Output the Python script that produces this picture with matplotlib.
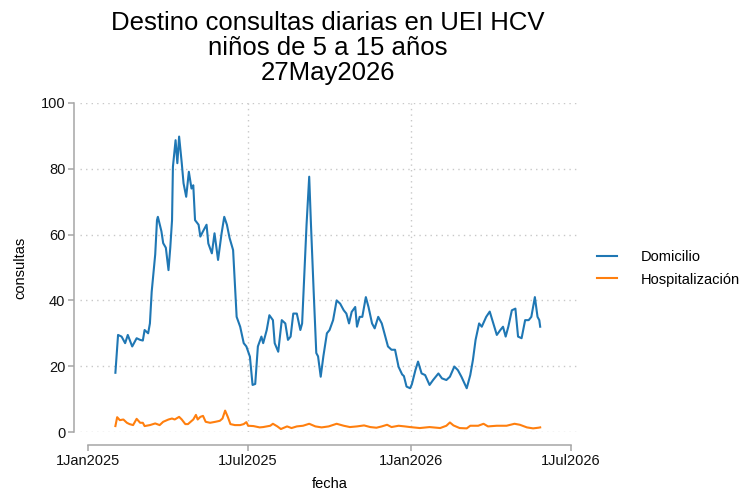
import numpy as np
import matplotlib
matplotlib.use('Agg')
import matplotlib.pyplot as plt

plt.rcParams['font.family'] = ['Liberation Sans', 'DejaVu Sans']

START = np.datetime64('2025-01-01')

# Domicilio: days since 1 Jan 2025 and daily consultations
dom_day = [31, 34, 38, 42, 45, 50, 55, 59, 62, 64, 68, 70, 72, 76, 78, 79,
           83, 85, 88, 91, 93, 95, 96, 99, 101, 103, 106, 108, 111, 114, 117,
           119, 121, 125, 127, 130, 134, 136, 140, 143, 147, 151, 154, 157,
           160, 164, 168, 172, 176, 179, 183, 186, 189, 192, 196, 198, 202,
           205, 209, 211, 215, 219, 223, 226, 229, 232, 236, 240, 242, 244,
           247, 250, 252, 255, 258, 260, 263, 266, 270, 273, 277, 281, 285,
           289, 292, 295, 298, 302, 304, 307, 310, 314, 317, 321, 324, 328,
           332, 336, 339, 343, 347, 351, 355, 357, 360, 364, 366, 370, 373,
           377, 381, 386, 390, 396, 400, 405, 409, 414, 418, 422, 428, 432,
           435, 438, 442, 445, 450, 454, 458, 462, 466, 469, 472, 475, 479,
           483, 486, 490, 494, 498, 501, 505, 508, 510, 511]
dom_val = [18.0, 29.5, 29, 27, 29.5, 26, 28.5, 28, 27.8, 31, 30, 33, 42.6,
           54, 64.4, 65.4, 61, 57.4, 56, 49.2, 56, 64.4, 80.6, 88.7, 81.7,
           89.8, 81.7, 75.6, 71.5, 79.1, 74, 75, 64.4, 63, 59.4, 61, 63, 57.3,
           54.3, 60.4, 52.3, 60.4, 65.4, 63, 59, 55.3, 35, 32, 27, 26, 22.9,
           14.3, 14.6, 26, 29, 27, 31, 35.5, 34, 27, 24.4, 34, 33, 28, 29, 36,
           36, 31, 33, 45, 63, 77.6, 63, 43, 24, 23, 16.8, 23, 30, 31, 34, 40,
           39, 37, 36, 33, 36.5, 38, 32, 35, 35, 41, 38, 33, 31.5, 35, 33, 29,
           26, 25, 25, 19.8, 17.5, 17, 13.8, 13.3, 14.5, 18.8, 21.4, 17.8,
           17.3, 14.3, 15.8, 17.8, 16.3, 15.8, 16.8, 19.9, 18.8, 16.8, 13.3,
           17.3, 21.9, 28, 33, 32, 35, 36.6, 33, 29.5, 31, 32, 29, 32, 37,
           37.5, 29, 28.5, 34, 34, 35, 41, 35, 34, 32]

# Hospitalizacion
hos_day = [31, 33, 36, 40, 44, 47, 51, 55, 59, 62, 64, 70, 76, 81, 85, 91,
           95, 98, 103, 106, 110, 113, 119, 122, 124, 127, 130, 133, 138, 144,
           149, 152, 155, 158, 161, 166, 172, 176, 179, 181, 187, 194, 198,
           206, 209, 214, 218, 225, 230, 236, 243, 250, 257, 264, 272, 281,
           289, 296, 304, 312, 319, 326, 332, 338, 343, 351, 358, 364, 375,
           386, 398, 405, 409, 413, 420, 428, 432, 441, 447, 452, 462, 473,
           482, 488, 496, 503, 509, 511]
hos_val = [1.8, 4.5, 3.6, 3.8, 2.8, 2.4, 2.1, 4.0, 2.8, 2.8, 1.8, 2.1, 2.6,
           2.1, 3.1, 3.8, 4.1, 3.8, 4.6, 3.8, 2.4, 2.4, 3.8, 5.2, 3.8, 4.6,
           4.9, 3.1, 2.8, 3.1, 3.4, 4.1, 6.5, 4.6, 2.4, 2.1, 2.1, 2.4, 3.0,
           1.9, 1.8, 1.4, 1.5, 1.9, 2.5, 1.7, 0.9, 1.7, 1.2, 1.7, 1.9, 2.5,
           1.7, 1.4, 1.7, 2.5, 1.9, 1.5, 1.7, 2.0, 1.5, 1.3, 1.7, 2.2, 1.5,
           1.9, 1.7, 1.5, 1.2, 1.5, 1.2, 1.9, 2.9, 2.0, 1.2, 1.1, 1.9, 1.9,
           2.5, 1.7, 1.9, 1.9, 2.5, 2.2, 1.4, 1.1, 1.3, 1.4]

xticks = ['2025-01-01', '2025-07-01', '2026-01-01', '2026-07-01']
xtick_labels = ['1Jan2025', '1Jul2025', '1Jan2026', '1Jul2026']
yticks = [0, 20, 40, 60, 80, 100]

AX_GRAY = '#a6a6a6'
GRID_GRAY = '#c8c8c8'

fig = plt.figure(figsize=(7.42, 4.96), dpi=100)
ax = fig.add_axes([80 / 742, 64 / 496, 500 / 742, 329 / 496])

xd = START + np.array(dom_day).astype('timedelta64[D]')
xh = START + np.array(hos_day).astype('timedelta64[D]')
ax.plot(xd, dom_val, color='#1f77b4', lw=1.5, label='Domicilio')
ax.plot(xh, hos_val, color='#ff7f0e', lw=1.5, label='Hospitalización')

xt = np.array(xticks, dtype='datetime64[D]')
ax.set_xlim(START - np.timedelta64(9, 'D'), START + np.timedelta64(556, 'D'))
ax.set_ylim(0, 100)
ax.set_xticks(xt)
ax.set_xticklabels(xtick_labels)
ax.set_yticks(yticks)

# dotted grid: all y ticks, only inner x ticks
ax.grid(axis='y', color=GRID_GRAY, ls=(0, (1, 3)), lw=1)
for t in xt[1:-1]:
    ax.axvline(t, color=GRID_GRAY, ls=(0, (1, 3)), lw=1, zorder=0)
ax.set_axisbelow(True)

for s in ['top', 'right']:
    ax.spines[s].set_visible(False)
ax.spines['left'].set_position(('outward', 4))
ax.spines['bottom'].set_position(('outward', 9.5))
ax.spines['left'].set_bounds(0, 100)
ax.spines['bottom'].set_bounds(xt[0], xt[-1])
for s in ['left', 'bottom']:
    ax.spines[s].set_color(AX_GRAY)
    ax.spines[s].set_linewidth(1.1)
ax.tick_params(axis='both', colors=AX_GRAY, labelcolor='#111111',
               labelsize=10.5, length=4, width=1.1, pad=2.5)

ax.set_ylabel('consultas', fontsize=10.5, labelpad=10)
ax.set_xlabel('fecha', fontsize=10.5, labelpad=6)

fig.text(328 / 742, 1 - 48 / 496,
         'Destino consultas diarias en UEI HCV\nniños de 5 a 15 años\n27May2026',
         ha='center', va='center', fontsize=18.5, linespacing=1.07)

ax.legend(loc='center left', bbox_to_anchor=(597 / 742, 1 - 268.5 / 496),
          bbox_transform=fig.transFigure, frameon=False, fontsize=10.5,
          handlelength=1.4, handletextpad=1.6, labelspacing=0.55,
          borderpad=0, borderaxespad=0)

fig.savefig('out.png', dpi=100)
